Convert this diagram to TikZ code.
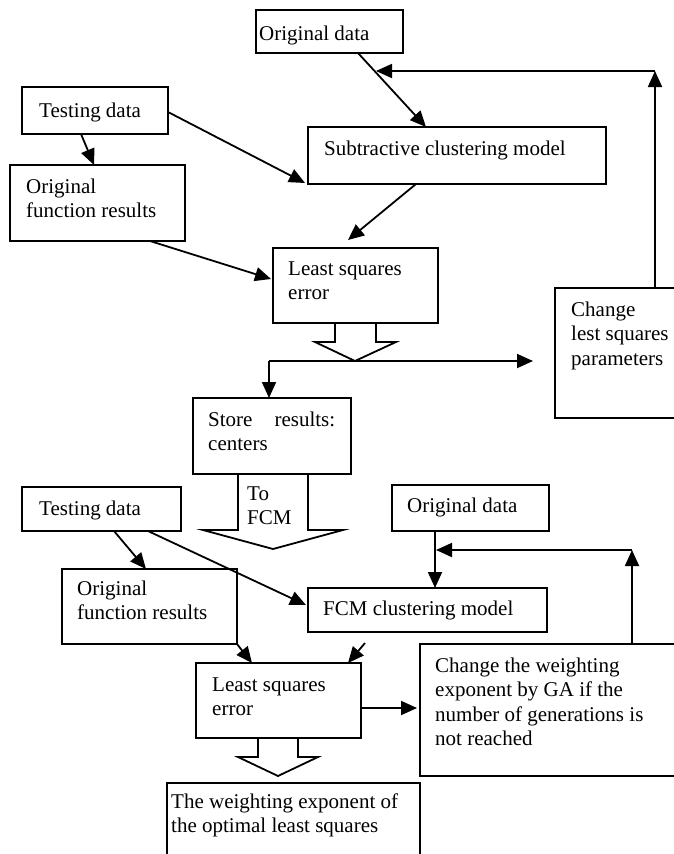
\documentclass[tikz,border=0pt]{standalone}
\usepackage{fontspec}
\setmainfont{Liberation Serif}
\usetikzlibrary{arrows.meta,calc}
\begin{document}
\begin{tikzpicture}[x=1pt,y=-1pt,
  box/.style={draw,line width=1.8pt,anchor=north west,inner sep=0pt,outer sep=0pt},
  txt/.style={anchor=base west,inner sep=0pt,align=left,font=\fontsize{21}{24.6}\selectfont},
  conn/.style={line width=1.8pt,-{Triangle[length=16pt,width=14pt]}},
  blk/.style={line width=1.8pt,line join=miter}]
\useasboundingbox (0,0) rectangle (673,854);
\fill[white] (0,0) rectangle (673,854);

% ---------- upper part ----------
\node[box,minimum width=147pt,minimum height=43pt] (odA) at (256,10) {};
\node[box,minimum width=146pt,minimum height=47pt] (tdA) at (22,87) {};
\node[box,minimum width=175pt,minimum height=76pt] (ofrA) at (10,165) {};
\node[box,minimum width=298pt,minimum height=57pt] (scA) at (308,127) {};
\node[box,minimum width=165pt,minimum height=75pt] (lseA) at (273,248) {};
\node[box,minimum width=140pt,minimum height=130pt] (chA) at (555,288) {};
\node[box,minimum width=158pt,minimum height=76pt] (stA) at (193,398) {};

% text: base anchor = baseline of the last line
\node[txt] (tOdA) at (259,40) {Original data};
\node[txt] (tTdA) at (39,117) {Testing data};
\node[txt] (tOfrA) at (26,217.6) {Original\\function results};
\node[txt] (tScA) at (324,155) {Subtractive clustering model};
\node[txt] (tLseA) at (288,299.6) {Least squares\\error};
\node[txt] (tChA) at (571,365.2) {Change\\lest squares\\parameters};
\node[txt] (tStA) at (208,450.6) {\hbox to 127pt{Store\hfill results:}\\centers};
\node[txt] (tToFcm) at (247,524.6) {To\\FCM};

% connectors upper
\draw[conn] ($(odA.south west)+(102,0)$) -- ($(scA.north west)+(118,0)$);
\coordinate (fbA) at (655,71);
\coordinate (tipA) at (376,71);
\draw[conn] (chA.north west -| fbA) -- (fbA);
\draw[conn] (fbA) -- (tipA);
\draw[conn] ($(tdA.south west)+(59,0)$) -- ($(ofrA.north west)+(84,0)$);
\draw[conn] ($(tdA.north east)+(0,25)$) -- ($(scA.south west)+(-3,-1)$);
\draw[conn] ($(scA.south west)+(108,0)$) -- ($(lseA.north west)+(75,-8)$);
\draw[conn] ($(ofrA.south west)+(140,0)$) -- ($(lseA.north west)+(-2,31)$);

% block arrow below least squares (upper)
\draw[blk] ($(lseA.south west)+(62,0)$) -- ++(0,19) -- ++(-20,0) -- ++(40,19) -- ++(41,-19) -- ++(-20,0) -- ++(0,-19);

\coordinate (splitA) at (269,361);
\coordinate (tipC) at (533,361);
\draw[conn] (splitA) -- (tipC);
\draw[conn] (splitA) -- (stA.north west -| splitA);

% block arrow "To FCM"
\draw[blk] ($(stA.south west)+(45,0)$) -- ++(0,56) -- ++(-35,0) -- ++(70,19) -- ++(70,-19) -- ++(-35,0) -- ++(0,-56);

% ---------- lower part ----------
\node[box,minimum width=159pt,minimum height=44pt] (tdB) at (22,487) {};
\node[box,minimum width=157pt,minimum height=46pt] (odB) at (392,485) {};
\node[box,minimum width=175pt,minimum height=75pt] (ofrB) at (62,569) {};
\node[box,minimum width=239pt,minimum height=44pt] (fcmB) at (308,588) {};
\node[box,minimum width=165pt,minimum height=75pt] (lseB) at (196,663) {};
\node[box,minimum width=280pt,minimum height=132pt] (chB) at (420,644) {};
\node[box,minimum width=253pt,minimum height=100pt] (finB) at (167,783) {};

\node[txt] (tTdB) at (39,515) {Testing data};
\node[txt] (tOdB) at (407,512) {Original data};
\node[txt] (tOfrB) at (77,619.6) {Original\\function results};
\node[txt] (tFcm) at (323,615) {FCM clustering model};
\node[txt] (tLseB) at (212,715.6) {Least squares\\error};
\node[txt] (tChB) at (435,745.8) {Change the weighting\\exponent by GA if the\\number of generations is\\not reached};
\node[txt] (tFin) at (171,832.6) {The weighting exponent of\\the optimal least squares};

% connectors lower
\draw[conn] ($(tdB.south west)+(92,0)$) -- ($(ofrB.north west)+(84,0)$);
\draw[conn] ($(tdB.south west)+(126,0)$) -- ($(fcmB.north west)+(-2,17)$);
\coordinate (fbB) at (632,550);
\coordinate (tipB) at (436,550);
\draw[conn] ($(odB.south west)+(43,0)$) -- ($(fcmB.north west)+(127,0)$);
\draw[conn] (chB.north west -| fbB) -- (fbB);
\draw[conn] (fbB) -- (tipB);
\draw[conn] (ofrB.south east) -- ($(lseB.north west)+(56,0)$);
\coordinate (freeB) at (365,643);
\draw[conn] (freeB) -- ($(lseB.north west)+(152,0)$);
\coordinate (tipD) at (417,708);
\draw[conn] ($(lseB.north east)+(0,45)$) -- (tipD);

% block arrow below least squares (lower)
\draw[blk] ($(lseB.south west)+(62,0)$) -- ++(0,19) -- ++(-20,0) -- ++(40,19) -- ++(40,-19) -- ++(-20,0) -- ++(0,-19);
\end{tikzpicture}
\end{document}
